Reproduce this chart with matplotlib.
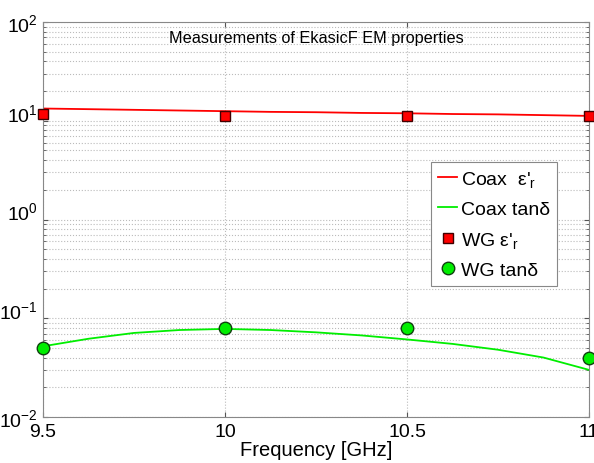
import numpy as np
import matplotlib
matplotlib.use("Agg")
import matplotlib.pyplot as plt
from matplotlib.ticker import LogLocator, NullFormatter

plt.rcParams['font.family'] = ['Liberation Sans', 'DejaVu Sans']
plt.rcParams['mathtext.fontset'] = 'custom'
plt.rcParams['mathtext.rm'] = 'Liberation Sans'
plt.rcParams['mathtext.it'] = 'Liberation Sans'

coax_freq = [9.5, 9.625, 9.75, 9.875, 10.0, 10.125, 10.25, 10.375, 10.5, 10.625, 10.75, 10.875, 11.0]
coax_eps = [13.3, 13.1, 12.9, 12.7, 12.5, 12.3, 12.2, 12.0, 11.9, 11.7, 11.6, 11.4, 11.2]
coax_tand = [0.052, 0.062, 0.071, 0.076, 0.078, 0.076, 0.072, 0.067, 0.061, 0.055, 0.048, 0.040, 0.030]

# waveguide points
wg_freq = [9.5, 10.0, 10.5, 11.0]
wg_eps = [11.8, 11.2, 11.3, 11.1]
wg_tand = [0.050, 0.079, 0.079, 0.040]

fig = plt.figure(figsize=(5.94, 4.64), dpi=100)
ax = fig.add_axes([43/594, 46/464, 546/594, 395/464])

ax.plot(coax_freq, coax_eps, color='red', lw=1.3, label="Coax  ε'$_{\\rm r}$")
ax.plot(coax_freq, coax_tand, color='#00ee00', lw=1.3, label="Coax tanδ")
ax.plot(wg_freq, wg_eps, 's', ms=7.5, mfc='red', mec='#400000', mew=1.0,
        label="WG ε'$_{\\rm r}$", clip_on=False, zorder=5)
ax.plot(wg_freq, wg_tand, 'o', ms=9, mfc='#00ee00', mec='#104010', mew=1.0,
        label="WG tanδ", clip_on=False, zorder=5)

ax.set_yscale('log')
ax.set_ylim(1e-2, 1e2)
ax.set_xlim(9.5, 11)
ax.set_xticks([9.5, 10, 10.5, 11])
ax.set_xticklabels(['9.5', '10', '10.5', '11'])
ax.set_yticks([1e-2, 1e-1, 1e0, 1e1, 1e2])
ax.set_yticklabels(['$10^{-2}$', '$10^{-1}$', '$10^{0}$', '$10^{1}$', '$10^{2}$'])
ax.yaxis.set_minor_locator(LogLocator(base=10, subs=np.arange(2, 10), numticks=10))
ax.yaxis.set_minor_formatter(NullFormatter())
# MATLAB puts the inner decade labels just above their tick
for lab in ax.get_yticklabels()[1:4]:
    lab.set_va('baseline')

ax.grid(True, which='major', color='#bbbbbb', ls=':', lw=0.8)
ax.grid(True, which='minor', axis='y', color='#bbbbbb', ls=':', lw=0.8)
ax.tick_params(which='both', direction='in', top=True, right=True, labelsize=14,
               colors='#555555', labelcolor='black')
ax.tick_params(axis='x', pad=4)
for s in ax.spines.values():
    s.set_color('#888888')

ax.set_xlabel('Frequency [GHz]', fontsize=14.5, labelpad=0)
ax.text(0.5, 0.962, 'Measurements of EkasicF EM properties', transform=ax.transAxes,
        ha='center', va='center', fontsize=11.7)

leg = ax.legend(loc='upper left', bbox_to_anchor=((431-43)/546, (418-163)/395),
                fontsize=14, fancybox=False, framealpha=1, edgecolor='#888888',
                handlelength=1.0, handletextpad=0.2, borderpad=0.35, labelspacing=0.6,
                borderaxespad=0)
leg.get_frame().set_linewidth(0.8)

fig.savefig('out.png', dpi=100)
